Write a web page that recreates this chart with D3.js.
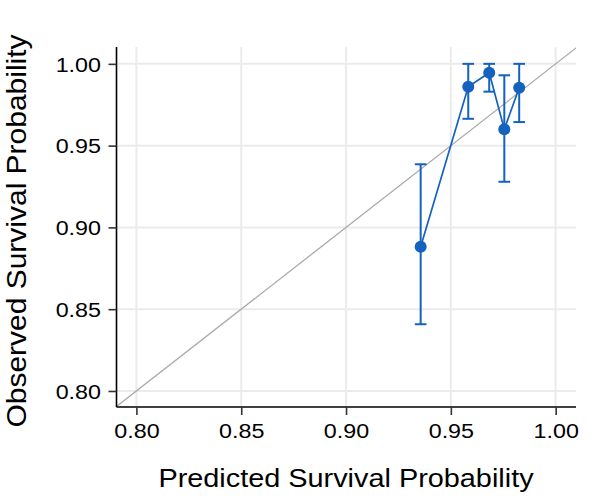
<!DOCTYPE html>
<html><head><meta charset="utf-8">
<script src="https://cdn.jsdelivr.net/npm/d3@7"></script>
<style>body{margin:0;background:#fff;} svg{display:block;}</style>
</head><body>
<svg id="c" width="600" height="500"></svg>
<script>
const predicted = [0.9356, 0.9583, 0.9683, 0.9755, 0.9826];
const observed  = [0.8882, 0.9860, 0.9946, 0.9600, 0.9854];
const lower     = [0.8408, 0.9664, 0.9830, 0.9279, 0.9644];
const upper     = [0.9386, 1.0000, 1.0000, 0.9930, 1.0000];
const xTicks = [0.80, 0.85, 0.90, 0.95, 1.00];
const yTicks = [0.80, 0.85, 0.90, 0.95, 1.00];
const xTitle = "Predicted Survival Probability";
const yTitle = "Observed Survival Probability";

const svg = d3.select("#c");
const L = 116.5, R = 576, T = 47, B = 407;
const x = d3.scaleLinear().domain([0.7905, 1.0097]).range([L, R]);
const y = d3.scaleLinear().domain([0.7902, 1.0103]).range([B, T]);
const blue = "#1462be";
const font = "Liberation Sans, Arial, sans-serif";
const S = 1.11; // horizontal glyph stretch

// grid
svg.append("g").selectAll("line").data(xTicks).join("line")
  .attr("x1", d => x(d)).attr("x2", d => x(d)).attr("y1", T).attr("y2", B)
  .attr("stroke", "#ebebeb").attr("stroke-width", 2);
svg.append("g").selectAll("line").data(yTicks).join("line")
  .attr("y1", d => y(d)).attr("y2", d => y(d)).attr("x1", L).attr("x2", R)
  .attr("stroke", "#ebebeb").attr("stroke-width", 2);

// diagonal
svg.append("defs").append("clipPath").attr("id", "clip")
  .append("rect").attr("x", L).attr("y", T).attr("width", R - L).attr("height", B - T);
svg.append("line").attr("clip-path", "url(#clip)")
  .attr("x1", x(0.78)).attr("y1", y(0.78)).attr("x2", x(1.02)).attr("y2", y(1.02))
  .attr("stroke", "#aaaaaa").attr("stroke-width", 1.3);

const data = predicted.map((p, i) => ({p, o: observed[i], lo: lower[i], hi: upper[i]}));

// error bars
const eb = svg.append("g").attr("stroke", blue).attr("stroke-width", 2);
eb.selectAll(".v").data(data).join("line").attr("class", "v")
  .attr("x1", d => x(d.p)).attr("x2", d => x(d.p)).attr("y1", d => y(d.lo)).attr("y2", d => y(d.hi));
eb.selectAll(".t").data(data).join("line").attr("class", "t")
  .attr("x1", d => x(d.p) - 5.8).attr("x2", d => x(d.p) + 5.8).attr("y1", d => y(d.hi)).attr("y2", d => y(d.hi));
eb.selectAll(".b").data(data).join("line").attr("class", "b")
  .attr("x1", d => x(d.p) - 5.8).attr("x2", d => x(d.p) + 5.8).attr("y1", d => y(d.lo)).attr("y2", d => y(d.lo));

// line
svg.append("path").datum(data)
  .attr("d", d3.line().x(d => x(d.p)).y(d => y(d.o)))
  .attr("fill", "none").attr("stroke", blue).attr("stroke-width", 1.7);

// points
svg.append("g").selectAll("circle").data(data).join("circle")
  .attr("cx", d => x(d.p)).attr("cy", d => y(d.o)).attr("r", 6).attr("fill", blue);

// axes
const xAxis = svg.append("g").attr("transform", `translate(0,${B})`)
  .call(d3.axisBottom(x).tickValues(xTicks).tickFormat(d3.format(".2f")).tickSize(8).tickSizeOuter(0));
const yAxis = svg.append("g").attr("transform", `translate(${L},0)`)
  .call(d3.axisLeft(y).tickValues(yTicks).tickFormat(d3.format(".2f")).tickSize(8).tickSizeOuter(0));
[xAxis, yAxis].forEach(g => {
  g.select(".domain").attr("stroke", "#000").attr("stroke-width", 1.6);
  g.selectAll(".tick line").attr("stroke", "#333").attr("stroke-width", 1.6);
  g.selectAll(".tick text").attr("fill", "#000").attr("font-family", font).attr("font-size", 21)
    .attr("transform", `scale(${S},1)`);
});
xAxis.select(".domain").attr("d", `M${L},0H${R}`);
yAxis.select(".domain").attr("d", `M0,${T}V${B}`);
xAxis.selectAll(".tick text").attr("x", 0).attr("y", 16).attr("dy", "0.71em");
yAxis.selectAll(".tick text").attr("x", -15.5 / S).attr("dy", "0.35em");

svg.append("text").attr("transform", `translate(346,486.5) scale(${S},1)`).attr("text-anchor", "middle")
  .attr("font-family", font).attr("font-size", 26).attr("fill", "#000").text(xTitle);
svg.append("text").attr("transform", `translate(26,231) rotate(-90) scale(${S},1)`).attr("text-anchor", "middle")
  .attr("font-family", font).attr("font-size", 27).attr("fill", "#000").text(yTitle);
</script>
</body></html>
